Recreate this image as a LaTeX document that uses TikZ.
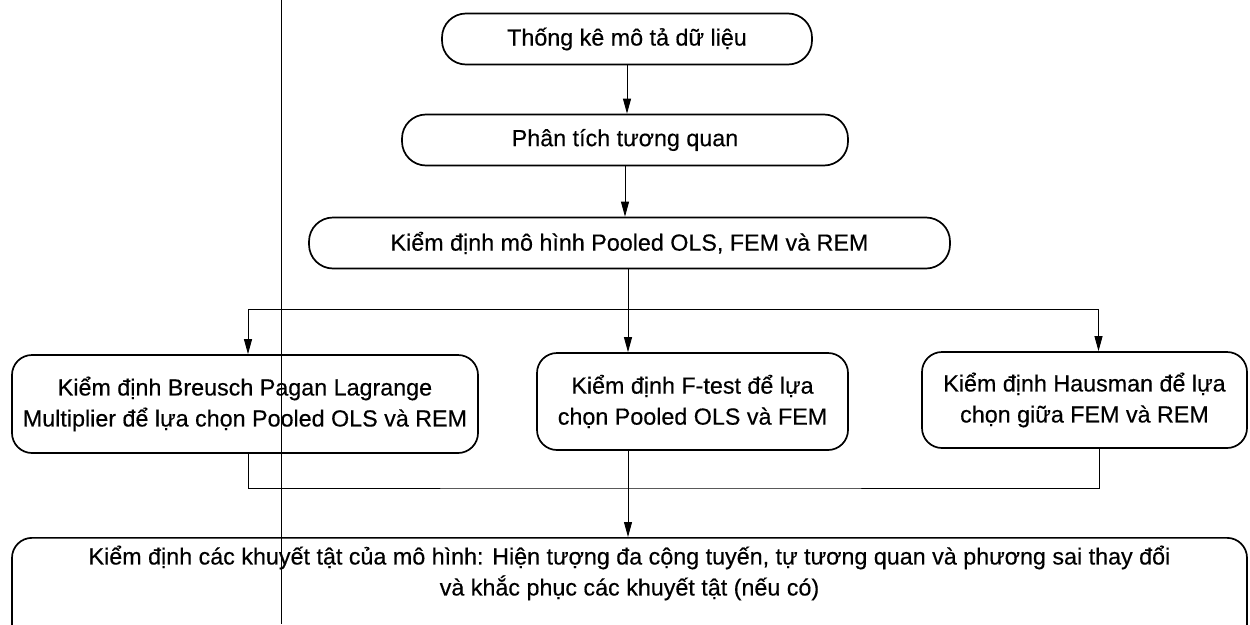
\documentclass[tikz,border=0pt]{standalone}
\usepackage{fontspec}
\setmainfont[FakeBold=0.4]{Liberation Sans}
\usetikzlibrary{arrows.meta,positioning}

\begin{document}
\begin{tikzpicture}[x=1pt,y=-1pt,>={Triangle[length=15pt,width=8pt]},
  bigbox/.style={draw,line width=1.7pt,rounded corners=24pt,minimum height=51pt,font=\fontsize{23.3}{31}\selectfont},
  testbox/.style={draw,line width=1.7pt,rounded corners=20pt,align=center,font=\fontsize{23.3}{31}\selectfont},
  link/.style={line width=0.9pt}]
\useasboundingbox[fill=white](0,0)rectangle(1250,624);
\draw[line width=0.6pt](281,0)--(281,624);% scan line
%% top chain
\node[bigbox,minimum width=370](stat)at(627,39){Thống kê mô tả dữ liệu};
\node[bigbox,minimum width=446](corr)at(625,140){Phân tích tương quan};
\node[bigbox,minimum width=641](pool)at(629.5,243){Kiểm định mô hình Pooled OLS, FEM và REM};
%% three tests
\node[testbox,minimum width=466,minimum height=98](bpl)at(245,404){Kiểm định Breusch Pagan Lagrange\\Multiplier để lựa chọn Pooled OLS và REM};
\node[testbox,minimum width=311,minimum height=97](ftest)at(692.5,401.5){Kiểm định F-test để lựa\\chọn Pooled OLS và FEM};
\node[testbox,minimum width=325,minimum height=96](haus)at(1084.5,400){Kiểm định Hausman để lựa\\chọn giữa FEM và REM};
%% last box
\node[testbox,minimum width=1235,minimum height=110,anchor=north](defect)at(629.5,537){};
\node[align=center,font=\fontsize{23.3}{31}\selectfont](defecttext)at(629.5,573){Kiểm định các khuyết tật của mô hình: Hiện tượng đa cộng tuyến, tự tương quan và phương sai thay đổi\\và khắc phục các khuyết tật (nếu có)};
\coordinate(split)at(628,309);
\coordinate(join)at(628,488);
%%%
\draw[link,->](stat.south)--(stat.south|-corr.north);
\draw[link,->](corr.south)--(corr.south|-pool.north);
\draw[link](pool.south-|split)--(split);
\draw[link,->](split)-|([xshift=3pt]bpl.north);
\draw[link,->](split)--(split|-ftest.north);
\draw[link,->](split)-|([xshift=14pt]haus.north);
\draw[link]([xshift=3pt]bpl.south)|-(join)-|([xshift=14.5pt]haus.south);
\draw[link,->](split|-ftest.south)--(split|-defect.north);
\end{tikzpicture}
\end{document}
